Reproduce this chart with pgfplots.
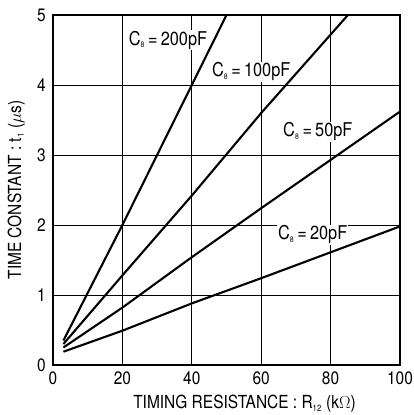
\documentclass[border=0pt]{standalone}
\usepackage{pgfplots}
\pgfplotsset{compat=1.18}
\usepackage{fontspec}
\setmainfont[FakeStretch=0.86]{TeX Gyre Heros}
\newcommand{\lbl}[1]{{\fontsize{19}{22}\selectfont C\textsubscript{\fontsize{8}{9}\selectfont 8}\,=\,#1}}
\begin{document}
\fontsize{18}{21}\selectfont
\begin{tikzpicture}
\begin{axis}[
  name=ax,
  scale only axis,
  width=347pt, height=350pt,
  xmin=0, xmax=100, ymin=0, ymax=5,
  xtick={0,20,40,60,80,100},
  ytick={0,1,2,3,4,5},
  major tick length=0pt,
  grid=major,
  grid style={black, line width=0.8pt},
  axis line style={line width=1.4pt},
  /pgf/number format/assume math mode=true,
  tick label style={font=\fontsize{18}{21}\selectfont},
  xticklabel style={yshift=-1pt},
  yticklabel style={xshift=-1pt},
  xlabel={TIMING RESISTANCE : R\textsubscript{\fontsize{9}{10}\selectfont 12} (k$\Omega$)},
  ylabel={TIME CONSTANT : t\textsubscript{\fontsize{9}{10}\selectfont 1} ($\mu$s)},
  label style={font=\fontsize{18}{21}\selectfont},
  xlabel style={yshift=2pt, xshift=18pt},
  ylabel style={yshift=0pt},
  clip=true,
]
\node[anchor=west, fill=white, inner sep=1pt] at (axis cs:21.5,4.64) {\lbl{200pF}};
\node[anchor=west, fill=white, inner sep=1pt] at (axis cs:45.5,4.19) {\lbl{100pF}};
\node[anchor=west, fill=white, inner sep=1pt] at (axis cs:66,3.33) {\lbl{50pF}};
\node[anchor=west, fill=white, inner sep=1pt] at (axis cs:64.5,1.86) {\lbl{20pF}};
\addplot[black, line width=2.1pt] coordinates {(3,0.35) (20,2.0) (40,4.0) (50,5.0)};
\addplot[black, line width=2.1pt] coordinates {(3,0.30) (20,1.28) (40,2.42) (60,3.6) (85,5.0)};
\addplot[black, line width=2.1pt] coordinates {(3,0.25) (20,0.82) (40,1.54) (60,2.24) (80,2.93) (100,3.62)};
\addplot[black, line width=2.1pt] coordinates {(3,0.19) (20,0.49) (40,0.88) (60,1.24) (80,1.61) (100,1.98)};
\end{axis}
\pgfresetboundingbox
\path ([shift={(-53pt,-50pt)}]ax.south west) rectangle ([shift={(13pt,15pt)}]ax.north east);
\end{tikzpicture}
\end{document}
